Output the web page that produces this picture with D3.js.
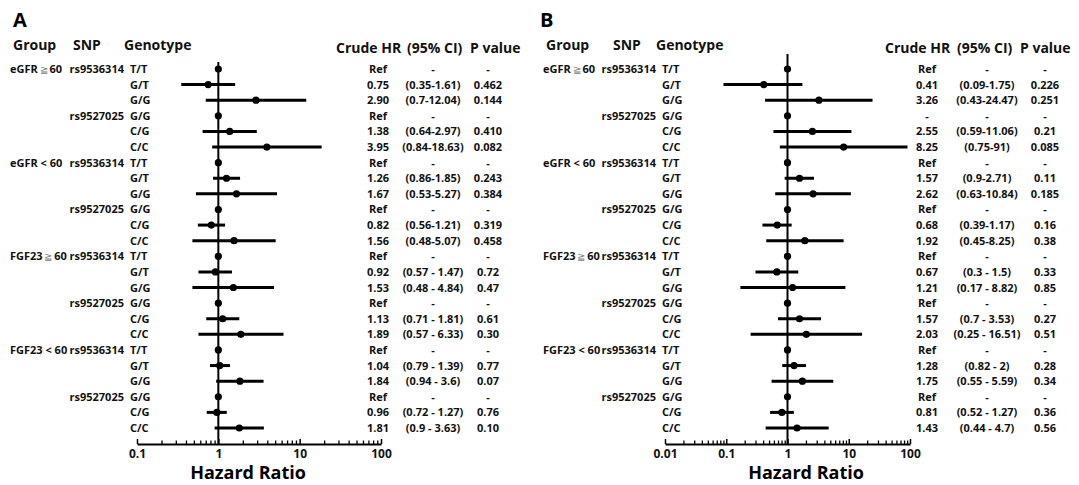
<!DOCTYPE html>
<html>
<head>
<meta charset="utf-8">
<script src="https://cdn.jsdelivr.net/npm/d3@7"></script>
<style>
  body { margin: 0; background: #fff; }
  svg { display: block; font-family: "Open Sans", sans-serif; }
  .row { font-size: 11px; font-weight: bold; fill: #111; }
  .head { font-size: 14px; font-weight: bold; fill: #111; }
  .tick text { font-size: 12px; font-weight: bold; fill: #111; font-family: "Open Sans", sans-serif; }
</style>
</head>
<body>
<svg id="chart" width="1079" height="485"></svg>
<script>
// ----------

const GROUPS = ["eGFR|≧|60", "eGFR < 60", "FGF23|≧|60", "FGF23 < 60"];
const SNPS = ["rs9536314", "rs9527025"];
const GENOTYPES = [["T/T", "G/T", "G/G"], ["G/G", "C/G", "C/C"]];

// panel A (crude HR); null = reference row
const A_HR = [null, 0.75, 2.90, null, 1.38, 3.95,
  null, 1.26, 1.67, null, 0.82, 1.56,
  null, 0.92, 1.53, null, 1.13, 1.89,
  null, 1.04, 1.84, null, 0.96, 1.81];
const A_LO = [null, 0.35, 0.7, null, 0.64, 0.84,
  null, 0.86, 0.53, null, 0.56, 0.48,
  null, 0.57, 0.48, null, 0.71, 0.57,
  null, 0.79, 0.94, null, 0.72, 0.9];
const A_HI = [null, 1.61, 12.04, null, 2.97, 18.63,
  null, 1.85, 5.27, null, 1.21, 5.07,
  null, 1.47, 4.84, null, 1.81, 6.33,
  null, 1.39, 3.6, null, 1.27, 3.63];
const A_HR_TEXT = ["Ref", "0.75", "2.90", "Ref", "1.38", "3.95",
  "Ref", "1.26", "1.67", "Ref", "0.82", "1.56",
  "Ref", "0.92", "1.53", "Ref", "1.13", "1.89",
  "Ref", "1.04", "1.84", "Ref", "0.96", "1.81"];
const A_CI_TEXT = ["-", "(0.35-1.61)", "(0.7-12.04)", "-", "(0.64-2.97)", "(0.84-18.63)",
  "-", "(0.86-1.85)", "(0.53-5.27)", "-", "(0.56-1.21)", "(0.48-5.07)",
  "-", "(0.57 - 1.47)", "(0.48 - 4.84)", "-", "(0.71 - 1.81)", "(0.57 - 6.33)",
  "-", "(0.79 - 1.39)", "(0.94 - 3.6)", "-", "(0.72 - 1.27)", "(0.9 - 3.63)"];
const A_P_TEXT = ["-", "0.462", "0.144", "-", "0.410", "0.082",
  "-", "0.243", "0.384", "-", "0.319", "0.458",
  "-", "0.72", "0.47", "-", "0.61", "0.30",
  "-", "0.77", "0.07", "-", "0.76", "0.10"];
const A_TICKS = [0.1, 1, 10, 100];

// panel B
const B_HR = [null, 0.41, 3.26, null, 2.55, 8.25,
  null, 1.57, 2.62, null, 0.68, 1.92,
  null, 0.67, 1.21, null, 1.57, 2.03,
  null, 1.28, 1.75, null, 0.81, 1.43];
const B_LO = [null, 0.09, 0.43, null, 0.59, 0.75,
  null, 0.9, 0.63, null, 0.39, 0.45,
  null, 0.3, 0.17, null, 0.7, 0.25,
  null, 0.82, 0.55, null, 0.52, 0.44];
const B_HI = [null, 1.75, 24.47, null, 11.06, 91,
  null, 2.71, 10.84, null, 1.17, 8.25,
  null, 1.5, 8.82, null, 3.53, 16.51,
  null, 2, 5.59, null, 1.27, 4.7];
const B_HR_TEXT = ["Ref", "0.41", "3.26", "-", "2.55", "8.25",
  "Ref", "1.57", "2.62", "Ref", "0.68", "1.92",
  "Ref", "0.67", "1.21", "Ref", "1.57", "2.03",
  "Ref", "1.28", "1.75", "Ref", "0.81", "1.43"];
const B_CI_TEXT = ["-", "(0.09-1.75)", "(0.43-24.47)", "-", "(0.59-11.06)", "(0.75-91)",
  "-", "(0.9-2.71)", "(0.63-10.84)", "-", "(0.39-1.17)", "(0.45-8.25)",
  "-", "(0.3 - 1.5)", "(0.17 - 8.82)", "-", "(0.7 - 3.53)", "(0.25 - 16.51)",
  "-", "(0.82 - 2)", "(0.55 - 5.59)", "-", "(0.52 - 1.27)", "(0.44 - 4.7)"];
const B_P_TEXT = ["-", "0.226", "0.251", "-", "0.21", "0.085",
  "-", "0.11", "0.185", "-", "0.16", "0.38",
  "-", "0.33", "0.85", "-", "0.27", "0.51",
  "-", "0.28", "0.34", "-", "0.36", "0.56"];
const B_TICKS = [0.01, 0.1, 1, 10, 100];

const HEADERS = ["Group", "SNP", "Genotype", "Crude HR", "(95% CI)", "P value"];

// ----------

const ROW_TOP = 69;
const ROW_BOTTOM = 428;
const AXIS_Y = 444;

const PANELS = [
  {
    letter: "A", letterX: 13,
    hr: A_HR, lo: A_LO, hi: A_HI, hrText: A_HR_TEXT, ciText: A_CI_TEXT, pText: A_P_TEXT,
    ticks: A_TICKS, range: [137, 381], lineTop: 62, titleX: 248,
    headX: [13, 73, 124, 336, 407, 470],
    groupX: 10, snpX: 124, genoX: 130, hrX: 378, ciX: 433, pX: 488
  },
  {
    letter: "B", letterX: 540,
    hr: B_HR, lo: B_LO, hi: B_HI, hrText: B_HR_TEXT, ciText: B_CI_TEXT, pText: B_P_TEXT,
    ticks: B_TICKS, range: [665, 910], lineTop: 54, titleX: 806,
    headX: [546, 613, 656, 885, 957, 1020],
    groupX: 543, snpX: 656, genoX: 662, hrX: 927, ciX: 987, pX: 1045
  }
];

function buildRows(p) {
  let rows = [];
  GROUPS.forEach(function (g, gi) {
    SNPS.forEach(function (s, si) {
      GENOTYPES[si].forEach(function (gt, k) {
        let i = rows.length;
        rows.push({
          group: si === 0 && k === 0 ? g : "",
          snp: k === 0 ? s : "",
          geno: gt,
          hr: p.hr[i], lo: p.lo[i], hi: p.hi[i],
          hrText: p.hrText[i], ciText: p.ciText[i], pText: p.pText[i]
        });
      });
    });
  });
  return rows;
}

function minorTicks(domain) {
  let out = [];
  for (let e = Math.round(Math.log10(domain[0])); e < Math.round(Math.log10(domain[1])); e++) {
    for (let m = 2; m <= 9; m++) out.push(m * Math.pow(10, e));
  }
  return out;
}

function drawPanel(svg, p) {
  const rows = buildRows(p);
  const x = d3.scaleLog().domain([p.ticks[0], p.ticks[p.ticks.length - 1]]).range(p.range);
  const y = d3.scalePoint().domain(d3.range(rows.length)).range([ROW_TOP, ROW_BOTTOM]);
  const g = svg.append("g");

  g.append("text")
    .attr("x", p.letterX).attr("y", 27)
    .style("font-size", "20px").style("font-weight", "bold")
    .text(p.letter);

  g.selectAll("text.head")
    .data(HEADERS)
    .enter()
    .append("text")
    .attr("class", "head")
    .attr("x", function (d, i) { return p.headX[i]; })
    .attr("y", function (d, i) { return i < 3 ? 50 : 53; })
    .text(function (d) { return d; });

  // group labels (with grey ≧ sign, thin spaces so it fits before the SNP column)
  let grp = g.selectAll("text.grp")
    .data(rows.filter(function (r) { return r.group; }))
    .enter()
    .append("text")
    .attr("class", "row grp")
    .attr("x", p.groupX)
    .attr("y", function (d) { return y(rows.indexOf(d)) + 4; });
  grp.each(function (d) {
    const parts = d.group.split("|");
    const t = d3.select(this);
    if (parts.length === 3) {
      t.append("tspan").text(parts[0] + "\u2009");
      t.append("tspan").style("fill", "#777").style("font-weight", "normal").style("font-size", "10px").text(parts[1]);
      t.append("tspan").text("\u2009" + parts[2]);
    } else {
      t.text(d.group);
    }
  });

  const cols = [
    { key: "snp", x: p.snpX, anchor: "end" },
    { key: "geno", x: p.genoX, anchor: "start" },
    { key: "hrText", x: p.hrX, anchor: "middle" },
    { key: "ciText", x: p.ciX, anchor: "middle" },
    { key: "pText", x: p.pX, anchor: "middle" }
  ];
  cols.forEach(function (c) {
    g.selectAll("text.c-" + c.key)
      .data(rows)
      .enter()
      .append("text")
      .attr("class", "row c-" + c.key)
      .attr("x", c.x)
      .attr("y", function (d, i) { return y(i) + 4; })
      .attr("text-anchor", c.anchor)
      .text(function (d) { return d[c.key]; });
  });

  // axis
  const axisG = g.append("g").attr("transform", "translate(0," + AXIS_Y + ")");
  axisG.call(d3.axisBottom(x).tickValues(minorTicks(x.domain())).tickFormat("").tickSize(-3.5).tickSizeOuter(0));
  axisG.select(".domain").remove();
  axisG.selectAll("line").attr("stroke-width", 1.3);

  const majorG = g.append("g").attr("transform", "translate(0," + AXIS_Y + ")");
  majorG.call(d3.axisBottom(x).tickValues(p.ticks).tickFormat(d3.format("~g")).tickSize(-5).tickSizeOuter(0).tickPadding(5));
  majorG.select(".domain").attr("stroke-width", 2);
  majorG.selectAll("line").attr("stroke-width", 1.5);

  g.append("text")
    .attr("x", p.titleX).attr("y", 479)
    .attr("text-anchor", "middle")
    .style("font-size", "18px").style("font-weight", "bold")
    .text("Hazard Ratio");

  // reference line at HR = 1
  g.append("line")
    .attr("x1", x(1)).attr("x2", x(1))
    .attr("y1", p.lineTop).attr("y2", AXIS_Y)
    .attr("stroke", "#000").attr("stroke-width", 2);

  g.selectAll("line.ci")
    .data(rows.filter(function (r) { return r.lo != null; }))
    .enter()
    .append("line")
    .attr("class", "ci")
    .attr("x1", function (d) { return x(d.lo); })
    .attr("x2", function (d) { return x(d.hi); })
    .attr("y1", function (d) { return y(rows.indexOf(d)); })
    .attr("y2", function (d) { return y(rows.indexOf(d)); })
    .attr("stroke", "#000").attr("stroke-width", 3);

  g.selectAll("circle.pt")
    .data(rows)
    .enter()
    .append("circle")
    .attr("class", "pt")
    .attr("cx", function (d) { return x(d.hr == null ? 1 : d.hr); })
    .attr("cy", function (d, i) { return y(i); })
    .attr("r", 3.6)
    .attr("fill", "#000");
}

const svg = d3.select("#chart");
PANELS.forEach(function (p) { drawPanel(svg, p); });
</script>
</body>
</html>
